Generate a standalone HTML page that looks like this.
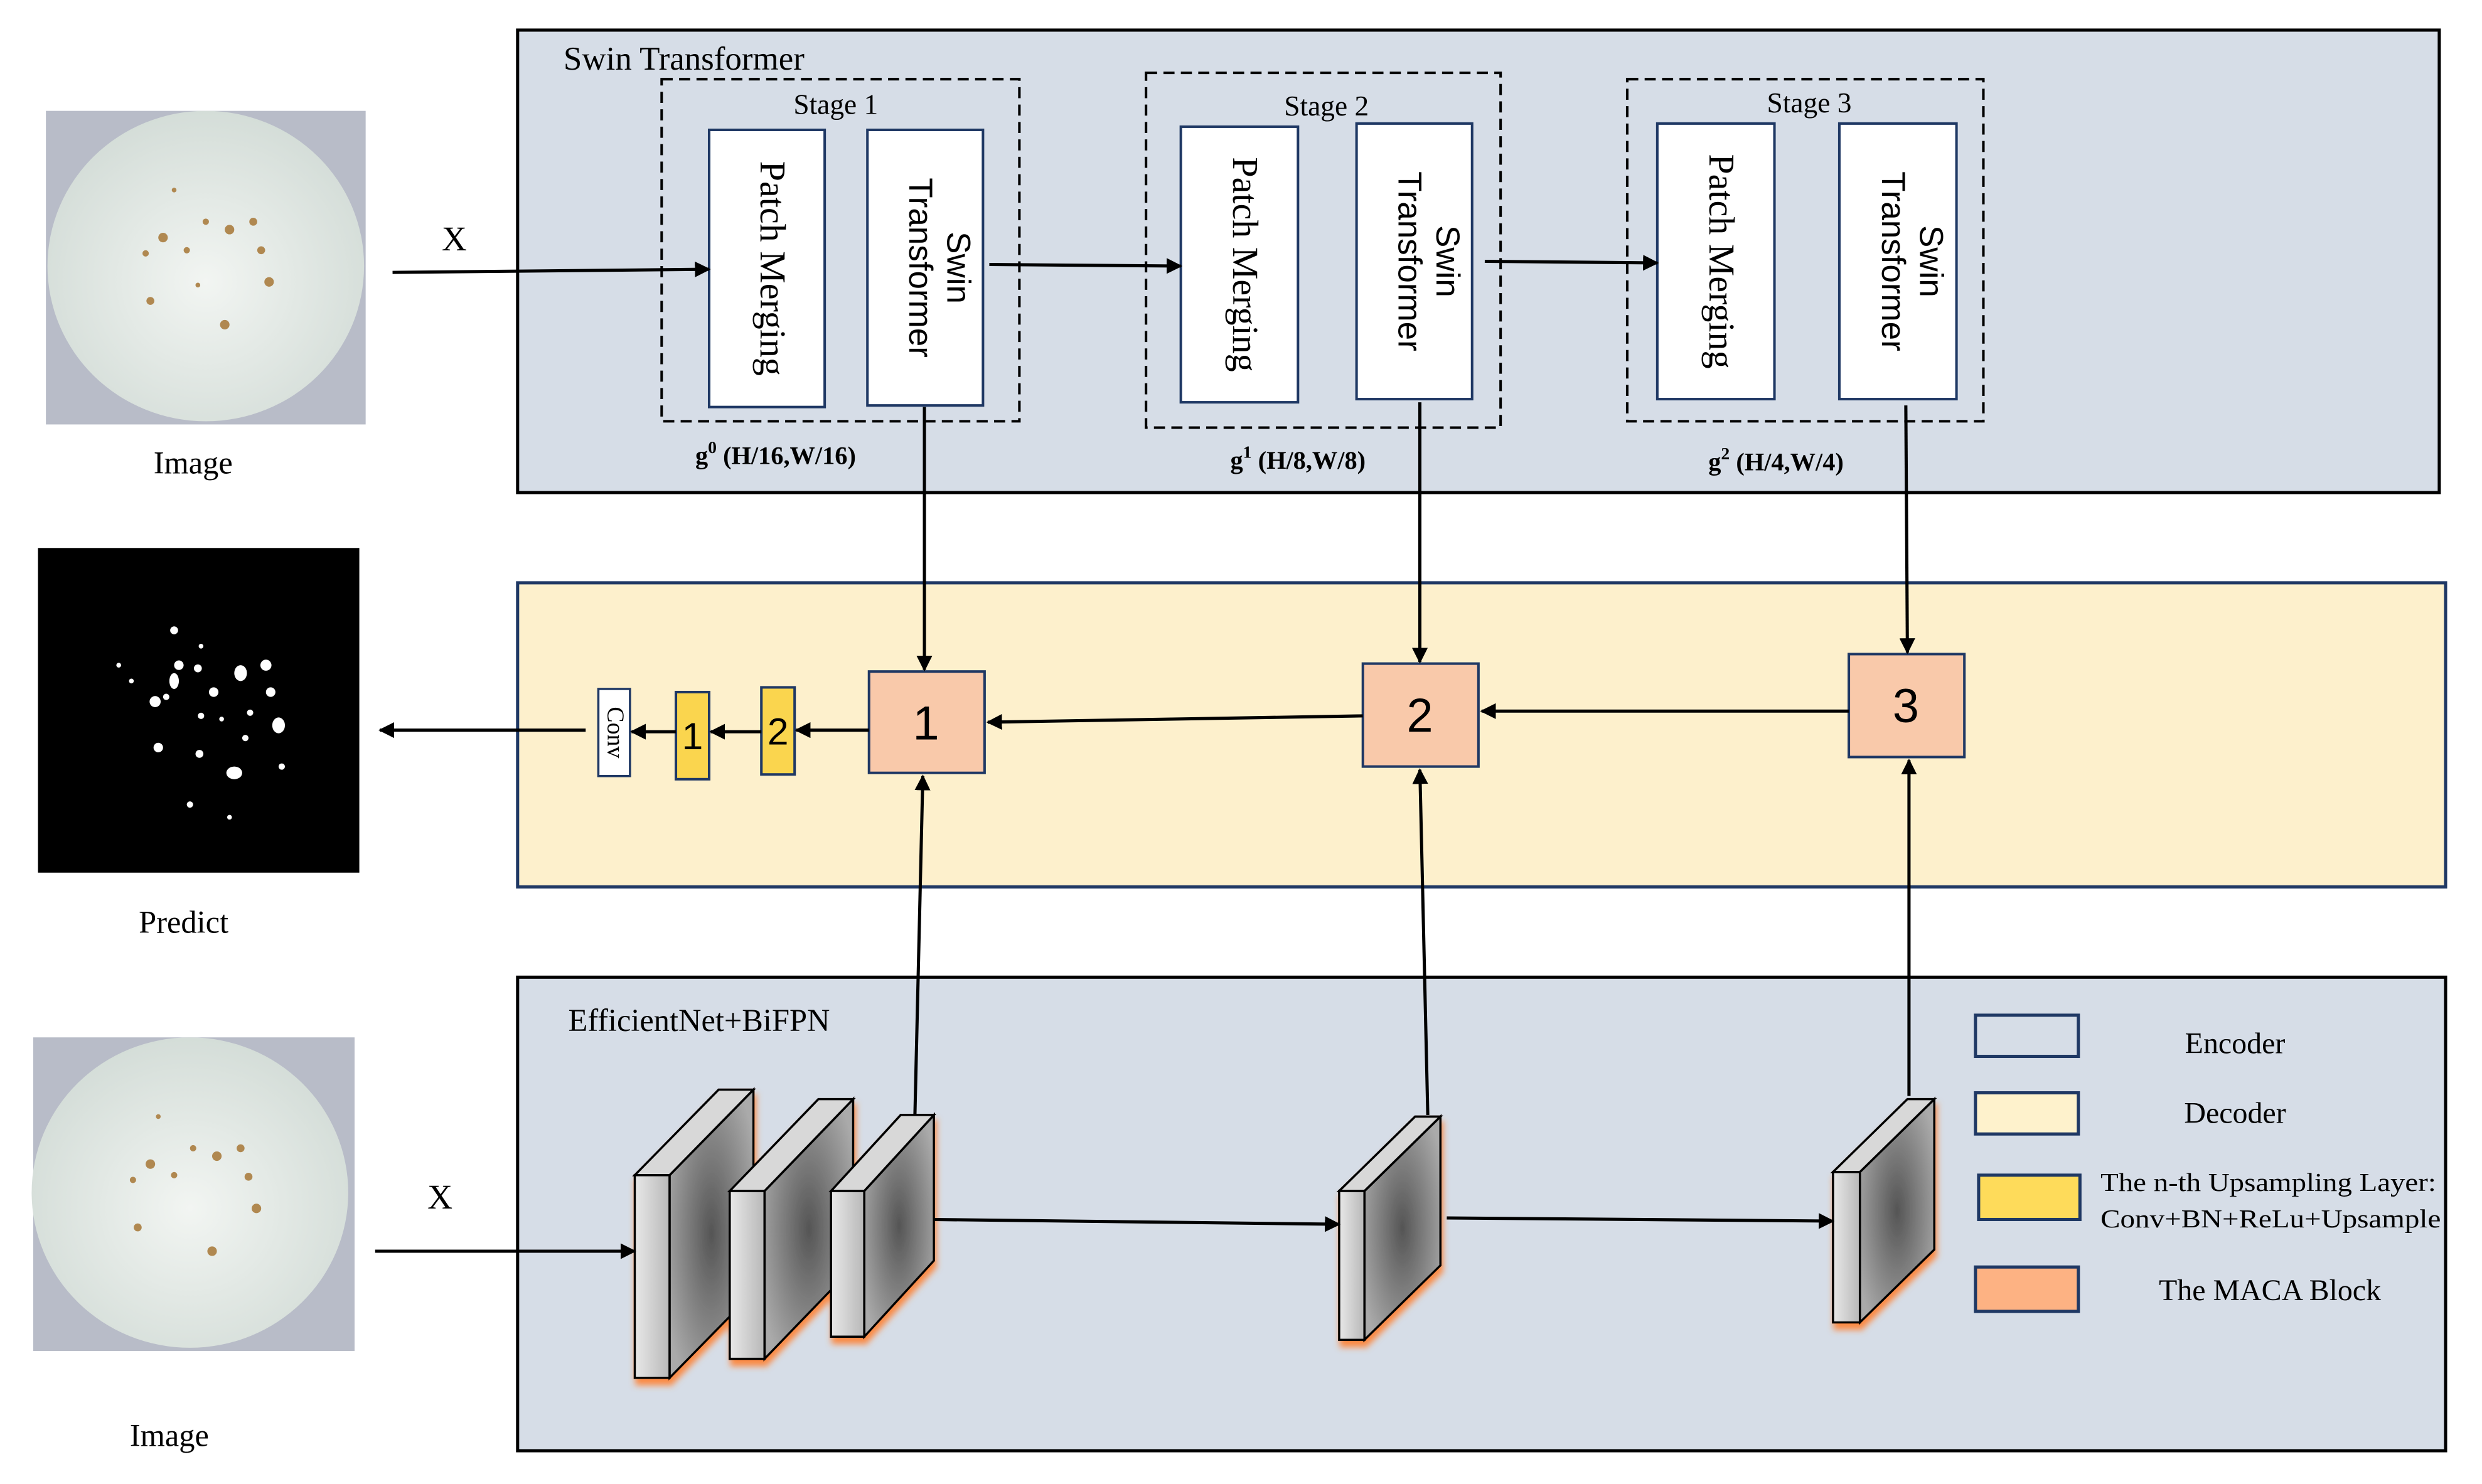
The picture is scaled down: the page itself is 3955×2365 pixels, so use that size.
<!DOCTYPE html>
<html><head><meta charset="utf-8">
<style>html,body{margin:0;padding:0;background:#fff}svg{display:block}</style></head>
<body>
<svg width="3955" height="2365" viewBox="0 0 1568 937" preserveAspectRatio="none" xmlns="http://www.w3.org/2000/svg" font-family="'Liberation Serif',serif">
<defs>
<marker id="ar" viewBox="0 0 10 10" refX="9" refY="5" markerWidth="5" markerHeight="5" orient="auto"><path d="M0,0L10,5L0,10z" fill="#000"/></marker>
<radialGradient id="side" cx="0.5" cy="0.5" r="0.6"><stop offset="0" stop-color="#555"/><stop offset="1" stop-color="#aaa"/></radialGradient>
<linearGradient id="front" x1="0" x2="1"><stop offset="0" stop-color="#e8e8e8"/><stop offset="1" stop-color="#b8b8b8"/></linearGradient>
<filter id="glow" x="-30%" y="-30%" width="160%" height="160%"><feDropShadow dx="1" dy="4" stdDeviation="2" flood-color="#ff8030" flood-opacity="0.9"/></filter>
<radialGradient id="plate" cx="0.5" cy="0.55" r="0.55"><stop offset="0" stop-color="#f2f5f2"/><stop offset="1" stop-color="#d4ddd8"/></radialGradient>
</defs>

<g>
<rect x="29" y="70" width="202" height="198" fill="#b8bcc8"/>
<ellipse cx="130" cy="168" rx="100" ry="98" fill="url(#plate)"/>
<g fill="#b08850"><circle cx="103" cy="150" r="3"/><circle cx="145" cy="145" r="3"/><circle cx="160" cy="140" r="2.5"/><circle cx="118" cy="158" r="2"/><circle cx="170" cy="178" r="3"/><circle cx="142" cy="205" r="3"/><circle cx="95" cy="190" r="2.5"/><circle cx="130" cy="140" r="2"/><circle cx="165" cy="158" r="2.5"/><circle cx="92" cy="160" r="2"/><circle cx="125" cy="180" r="1.5"/><circle cx="110" cy="120" r="1.5"/></g>
</g>
<g>
<rect x="21" y="655" width="203" height="198" fill="#b8bcc8"/>
<ellipse cx="120" cy="753" rx="100" ry="98" fill="url(#plate)"/>
<g fill="#b08850"><circle cx="95" cy="735" r="3"/><circle cx="137" cy="730" r="3"/><circle cx="152" cy="725" r="2.5"/><circle cx="110" cy="742" r="2"/><circle cx="162" cy="763" r="3"/><circle cx="134" cy="790" r="3"/><circle cx="87" cy="775" r="2.5"/><circle cx="122" cy="725" r="2"/><circle cx="157" cy="743" r="2.5"/><circle cx="84" cy="745" r="2"/><circle cx="100" cy="705" r="1.5"/></g>
</g>
<rect x="24" y="346" width="203" height="205" fill="#000"/>
<g fill="#fff"><circle cx="110" cy="398" r="2.5"/><circle cx="127" cy="408" r="1.5"/><circle cx="113" cy="420" r="3"/><ellipse cx="110" cy="430" rx="3" ry="5"/><circle cx="125" cy="422" r="2.5"/><ellipse cx="152" cy="425" rx="4" ry="5"/><circle cx="168" cy="420" r="3.5"/><circle cx="135" cy="437" r="3"/><circle cx="98" cy="443" r="3.5"/><circle cx="105" cy="440" r="2"/><circle cx="171" cy="437" r="3"/><circle cx="158" cy="450" r="2"/><circle cx="127" cy="452" r="2"/><circle cx="140" cy="454" r="1.5"/><ellipse cx="176" cy="458" rx="4" ry="5"/><circle cx="100" cy="472" r="3"/><circle cx="155" cy="466" r="2"/><circle cx="126" cy="476" r="2.5"/><ellipse cx="148" cy="488" rx="5" ry="4"/><circle cx="178" cy="484" r="2"/><circle cx="120" cy="508" r="2"/><circle cx="145" cy="516" r="1.5"/><circle cx="75" cy="420" r="1.5"/><circle cx="83" cy="430" r="1.5"/></g>
<g font-size="20" text-anchor="middle"><text x="122" y="299">Image</text><text x="116" y="589">Predict</text><text x="107" y="913">Image</text></g>

<rect x="327" y="19" width="1214" height="292" fill="#d6dde7" stroke="#000" stroke-width="2"/>
<text x="356" y="44" font-size="21">Swin  Transformer</text>
<g fill="none" stroke="#000" stroke-width="1.6" stroke-dasharray="7,4">
<rect x="418" y="50" width="226" height="216"/><rect x="724" y="46" width="224" height="224"/><rect x="1028" y="50" width="225" height="216"/></g>
<g font-size="18" text-anchor="middle"><text x="528" y="72">Stage 1</text><text x="838" y="73">Stage 2</text><text x="1143" y="71">Stage 3</text></g>
<g fill="#fff" stroke="#1f3864" stroke-width="1.6">
<rect x="448" y="82" width="73" height="175"/><rect x="548" y="82" width="73" height="174"/>
<rect x="746" y="80" width="74" height="174"/><rect x="857" y="78" width="73" height="174"/>
<rect x="1047" y="78" width="74" height="174"/><rect x="1162" y="78" width="74" height="174"/></g>
<g font-size="23" text-anchor="middle">
<text transform="translate(484.5,169.5) rotate(90)" y="4">Patch Merging</text>
<text transform="translate(783,167) rotate(90)" y="4">Patch Merging</text>
<text transform="translate(1084,165) rotate(90)" y="4">Patch Merging</text>
</g>
<g font-size="21" text-anchor="middle" font-family="'Liberation Sans',sans-serif">
<text transform="translate(584.5,169) rotate(90)"><tspan x="0" y="-14">Swin</tspan><tspan x="0" y="10">Transformer</tspan></text>
<text transform="translate(893.5,165) rotate(90)"><tspan x="0" y="-14">Swin</tspan><tspan x="0" y="10">Transformer</tspan></text>
<text transform="translate(1199,165) rotate(90)"><tspan x="0" y="-14">Swin</tspan><tspan x="0" y="10">Transformer</tspan></text>
</g>
<g font-size="16" font-weight="bold" text-anchor="middle">
<text x="490" y="293">g<tspan font-size="11" dy="-7">0</tspan><tspan dy="7"> (H/16,W/16)</tspan></text>
<text x="820" y="296">g<tspan font-size="11" dy="-7">1</tspan><tspan dy="7"> (H/8,W/8)</tspan></text>
<text x="1122" y="297">g<tspan font-size="11" dy="-7">2</tspan><tspan dy="7"> (H/4,W/4)</tspan></text>
<text x="512" y="895">t<tspan font-size="11" dy="-7">0</tspan><tspan dy="7"> (H/16,W/16)</tspan></text>
<text x="828" y="888">t<tspan font-size="11" dy="-7">1</tspan><tspan dy="7"> (H/8,W/8)</tspan></text>
<text x="1122" y="889">t<tspan font-size="11" dy="-7">2</tspan><tspan dy="7"> (H/4,W/4)</tspan></text>
</g>

<rect x="327" y="368" width="1218" height="192" fill="#fdf0cc" stroke="#1f3864" stroke-width="2"/>
<g fill="#f9c9aa" stroke="#1f3864" stroke-width="1.6">
<rect x="549" y="424" width="73" height="64"/><rect x="861" y="419" width="73" height="65"/><rect x="1168" y="413" width="73" height="65"/></g>
<g font-size="30" text-anchor="middle" font-family="'Liberation Sans',sans-serif"><text x="585" y="467">1</text><text x="897" y="462">2</text><text x="1204" y="456">3</text></g>
<g fill="#fad54e" stroke="#1f3864" stroke-width="1.6"><rect x="481" y="434" width="21" height="55"/><rect x="427" y="437" width="21" height="55"/></g>
<g font-size="24" text-anchor="middle" font-family="'Liberation Sans',sans-serif"><text x="491.5" y="470">2</text><text x="437.5" y="473">1</text></g>
<rect x="378" y="435" width="20" height="55" fill="#fff" stroke="#1f3864" stroke-width="1.4"/>
<text transform="translate(388,462.5) rotate(90)" font-size="15" text-anchor="middle" y="4">Conv</text>

<rect x="327" y="617" width="1218" height="299" fill="#d6dde7" stroke="#000" stroke-width="2"/>
<text x="359" y="651" font-size="20">EfficientNet+BiFPN</text>
<g stroke="#000" stroke-width="1.4" filter="url(#glow)">
<g><polygon points="423,742 476,688 476,816 423,870" fill="url(#side)"/><polygon points="401,742 454,688 476,688 423,742" fill="#d8d8d8"/><rect x="401" y="742" width="22" height="128" fill="url(#front)"/></g>
<g><polygon points="483,752 539,694 539,800 483,858" fill="url(#side)"/><polygon points="461,752 517,694 539,694 483,752" fill="#d8d8d8"/><rect x="461" y="752" width="22" height="106" fill="url(#front)"/></g>
<g><polygon points="546,752 590,704 590,796 546,844" fill="url(#side)"/><polygon points="525,752 569,704 590,704 546,752" fill="#d8d8d8"/><rect x="525" y="752" width="21" height="92" fill="url(#front)"/></g>
<g><polygon points="862,752 910,705 910,799 862,846" fill="url(#side)"/><polygon points="846,752 894,705 910,705 862,752" fill="#d8d8d8"/><rect x="846" y="752" width="16" height="94" fill="url(#front)"/></g>
<g><polygon points="1175,740 1222,694 1222,789 1175,835" fill="url(#side)"/><polygon points="1158,740 1205,694 1222,694 1175,740" fill="#d8d8d8"/><rect x="1158" y="740" width="17" height="95" fill="url(#front)"/></g>
</g>

<rect x="1248" y="641" width="65" height="26" fill="#d6dde7" stroke="#1f3864" stroke-width="2"/>
<rect x="1248" y="690" width="65" height="26" fill="#fef2cc" stroke="#1f3864" stroke-width="2"/>
<rect x="1250" y="742" width="64" height="28" fill="#fedb5a" stroke="#1f3864" stroke-width="2"/>
<rect x="1248" y="800" width="65" height="28" fill="#fdb283" stroke="#1f3864" stroke-width="2"/>
<g font-size="19"><text x="1412" y="665" text-anchor="middle">Encoder</text><text x="1412" y="709" text-anchor="middle">Decoder</text>
<text x="1327" y="752" font-size="16.5" textLength="212" lengthAdjust="spacingAndGlyphs">The n-th Upsampling Layer:</text>
<text x="1327" y="775" font-size="16.5" textLength="215" lengthAdjust="spacingAndGlyphs">Conv+BN+ReLu+Upsample</text>
<text x="1434" y="821" text-anchor="middle">The MACA  Block</text></g>

<g stroke="#000" stroke-width="2" fill="none" marker-end="url(#ar)">
<line x1="248" y1="172" x2="448" y2="170"/>
<line x1="625" y1="167" x2="746" y2="168"/>
<line x1="938" y1="165" x2="1047" y2="166"/>
<line x1="584" y1="257" x2="584" y2="423"/>
<line x1="897" y1="254" x2="897" y2="418"/>
<line x1="1204" y1="256" x2="1205" y2="412"/>
<line x1="861" y1="452" x2="624" y2="456"/>
<line x1="1168" y1="449" x2="936" y2="449"/>
<line x1="549" y1="461" x2="503" y2="461"/>
<line x1="481" y1="462" x2="449" y2="462"/>
<line x1="427" y1="462" x2="399" y2="462"/>
<line x1="370" y1="461" x2="240" y2="461"/>
<line x1="237" y1="790" x2="401" y2="790"/>
<line x1="590" y1="770" x2="846" y2="773"/>
<line x1="914" y1="769" x2="1158" y2="771"/>
<line x1="578" y1="704" x2="583" y2="490"/>
<line x1="902" y1="704" x2="897" y2="486"/>
<line x1="1206" y1="692" x2="1206" y2="480"/>
</g>
<g font-size="22" text-anchor="middle"><text x="287" y="158">X</text><text x="278" y="763">X</text></g>
</svg>
</body></html>
